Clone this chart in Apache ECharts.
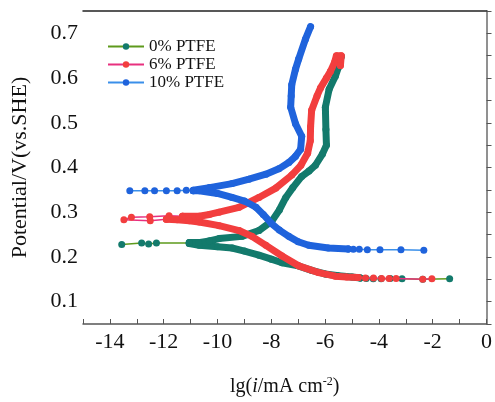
<!DOCTYPE html>
<html lang="en">
<head>
    <meta charset="UTF-8">
    <title>Tafel PTFE</title>
    <script src="https://cdn.jsdelivr.net/npm/echarts@6/dist/echarts.min.js"></script>
    <style>
        body { margin: 0; background: #fff; }
        #main { width: 495px; height: 402px; }
    </style>
</head>
<body>
<div id="main"></div>
<script>
    // lg(i) , potential pairs
    var tail0 = [[-4.69, 0.153], [-4.47, 0.152], [-4.21, 0.151], [-3.92, 0.151], [-3.58, 0.152], [-3.14, 0.151], [-2.37, 0.150], [-1.37, 0.151]];
    var cath0 = [[-4.69, 0.153], [-5.0, 0.155], [-5.5, 0.158], [-6.0, 0.162], [-6.5, 0.170], [-7.0, 0.180], [-7.6, 0.187], [-8.0, 0.195], [-8.46, 0.204], [-9.0, 0.213], [-9.46, 0.220], [-10.0, 0.223], [-10.68, 0.226], [-11.05, 0.230]];
    var spike0 = [[-11.05, 0.231], [-12.27, 0.231], [-12.56, 0.229], [-12.82, 0.231], [-13.56, 0.228]];
    var anod0 = [[-11.05, 0.232], [-10.7, 0.232], [-10.3, 0.236], [-9.94, 0.241], [-9.09, 0.246], [-8.46, 0.259], [-7.98, 0.280], [-7.7, 0.305], [-7.46, 0.333], [-7.2, 0.355], [-6.87, 0.380], [-6.6, 0.392], [-6.36, 0.405], [-6.1, 0.430], [-5.95, 0.450], [-5.97, 0.485], [-5.99, 0.535], [-5.85, 0.575], [-5.62, 0.604], [-5.5, 0.625], [-5.4, 0.648]];

    var tail6 = [[-4.77, 0.154], [-4.5, 0.153], [-4.2, 0.153], [-3.9, 0.152], [-3.62, 0.152], [-3.36, 0.152], [-2.37, 0.150], [-2.03, 0.151]];
    var cath6 = [[-4.77, 0.154], [-5.2, 0.155], [-5.62, 0.157], [-6.24, 0.165], [-6.98, 0.180], [-7.6, 0.202], [-8.2, 0.226], [-8.72, 0.246], [-9.2, 0.259], [-9.94, 0.270], [-10.68, 0.278], [-11.05, 0.281], [-11.5, 0.283], [-11.9, 0.284]];
    var spike6 = [[-11.9, 0.284], [-12.5, 0.281], [-13.48, 0.283], [-13.2, 0.289], [-12.52, 0.290], [-11.8, 0.292], [-11.3, 0.291]];
    var anod6 = [[-11.3, 0.291], [-10.68, 0.291], [-10.3, 0.295], [-9.94, 0.300], [-9.2, 0.311], [-8.46, 0.333], [-7.83, 0.354], [-7.24, 0.383], [-6.9, 0.405], [-6.65, 0.432], [-6.55, 0.460], [-6.54, 0.491], [-6.5, 0.528], [-6.3, 0.560], [-6.17, 0.578], [-5.95, 0.600], [-5.8, 0.615], [-5.65, 0.635], [-5.58, 0.650], [-5.4, 0.650], [-5.43, 0.628]];

    var tail10 = [[-5.14, 0.218], [-4.95, 0.217], [-4.73, 0.217], [-4.43, 0.216], [-3.96, 0.216], [-3.18, 0.216], [-2.33, 0.215]];
    var cath10 = [[-5.14, 0.218], [-5.88, 0.220], [-6.61, 0.226], [-7.0, 0.234], [-7.35, 0.246], [-7.7, 0.260], [-7.98, 0.274], [-8.3, 0.295], [-8.57, 0.311], [-9.0, 0.325], [-9.46, 0.333], [-10.0, 0.342], [-10.68, 0.348], [-10.9, 0.348]];
    var spike10 = [[-10.9, 0.348], [-11.16, 0.349], [-11.5, 0.348], [-11.9, 0.348], [-12.34, 0.348], [-12.7, 0.348], [-13.26, 0.348]];
    var anod10 = [[-10.9, 0.349], [-10.3, 0.355], [-9.46, 0.364], [-8.83, 0.374], [-8.2, 0.385], [-7.72, 0.397], [-7.35, 0.411], [-7.1, 0.425], [-6.91, 0.441], [-6.87, 0.470], [-7.1, 0.498], [-7.28, 0.535], [-7.26, 0.560], [-7.24, 0.585], [-7.1, 0.620], [-6.98, 0.643], [-6.73, 0.687], [-6.54, 0.715]];

    var names = ['0% PTFE', '6% PTFE', '10% PTFE'];
    var dotColors = ['#137a6c', '#f23e3e', '#1f63dc'];
    var lineColors = ['#5e9a1c', '#e8307f', '#3a8fea'];
    var xTicks = [-14, -12, -10, -8, -6, -4, -2, 0];
    var yTicks = [0.1, 0.2, 0.3, 0.4, 0.5, 0.6, 0.7];

    var groups = [
        [tail0, spike0, cath0, anod0],
        [tail6, spike6, cath6, anod6],
        [tail10, spike10, cath10, anod10]
    ];

    var series = [];
    groups.forEach(function (g, k) {
        // sparse ends: thin line, separate dots
        [g[0], g[1]].forEach(function (d) {
            series.push({
                name: names[k], type: 'line', data: d,
                symbol: 'circle', symbolSize: 7, showSymbol: true,
                itemStyle: {color: dotColors[k]},
                lineStyle: {color: lineColors[k], width: 1.5},
                z: 2 + k, animation: false
            });
        });
        // dense part of the scan: looks like a thick band of dots
        [g[2], g[3]].forEach(function (d) {
            series.push({
                name: names[k], type: 'line', data: d,
                symbol: 'circle', symbolSize: 7,
                itemStyle: {color: dotColors[k]},
                lineStyle: {color: dotColors[k], width: 7, cap: 'round', join: 'round'},
                z: 2 + k, animation: false
            });
        });
    });

    var serif = 'Liberation Serif';
    var myChart = echarts.init(document.getElementById('main'));
    var option = {
        animation: false,
        grid: {left: 83, right: 6, top: 11, bottom: 69},
        legend: {
            data: names, orient: 'vertical', left: 102, top: 33,
            itemWidth: 36, itemHeight: 8, itemGap: 1,
            textStyle: {fontFamily: serif, fontSize: 17, color: '#111', lineHeight: 17}
        },
        xAxis: [{
            type: 'value', min: -15, max: 0, interval: 1,
            name: '{a|lg(}{i|i}{a|/mA cm}{s|-2}{a|)}',
            nameLocation: 'middle', nameGap: 52,
            nameTextStyle: {
                rich: {
                    a: {fontFamily: serif, fontSize: 20, color: '#111'},
                    i: {fontFamily: serif, fontSize: 20, fontStyle: 'italic', color: '#111'},
                    s: {fontFamily: serif, fontSize: 12, color: '#111', verticalAlign: 'top', padding: [0, 0, 10, 0]}
                }
            },
            axisLine: {lineStyle: {color: '#555', width: 1.5}},
            axisTick: {inside: true, length: 5, lineStyle: {color: '#555'}, interval: 0},
            axisLabel: {
                fontFamily: serif, fontSize: 22, color: '#111', margin: 7,
                formatter: function (v) { return xTicks.indexOf(v) >= 0 ? String(v) : ''; }
            },
            splitLine: {show: false}
        }, {
            type: 'value', position: 'top', min: -15, max: 0,
            axisLine: {show: true, onZero: false, lineStyle: {color: '#222', width: 1.5}},
            axisTick: {show: false}, axisLabel: {show: false}, splitLine: {show: false}
        }],
        yAxis: [{
            type: 'value', min: 0.05, max: 0.75, interval: 0.05,
            name: 'Potential/V(vs.SHE)', nameLocation: 'middle', nameGap: 52,
            nameTextStyle: {fontFamily: serif, fontSize: 22, color: '#111'},
            axisLine: {show: true, lineStyle: {color: '#555', width: 1.5}},
            axisTick: {inside: true, length: 5, lineStyle: {color: '#555'}},
            axisLabel: {
                fontFamily: serif, fontSize: 22, color: '#111', margin: 5,
                formatter: function (v) {
                    var r = Math.round(v * 100) / 100;
                    return yTicks.indexOf(r) >= 0 ? r.toFixed(1) : '';
                }
            },
            splitLine: {show: false}
        }, {
            type: 'value', position: 'right', min: 0.05, max: 0.75,
            axisLine: {show: true, onZero: false, lineStyle: {color: '#999', width: 1.5}},
            axisTick: {show: false}, axisLabel: {show: false}, splitLine: {show: false}
        }],
        series: series
    };
    myChart.setOption(option);
</script>
</body>
</html>
